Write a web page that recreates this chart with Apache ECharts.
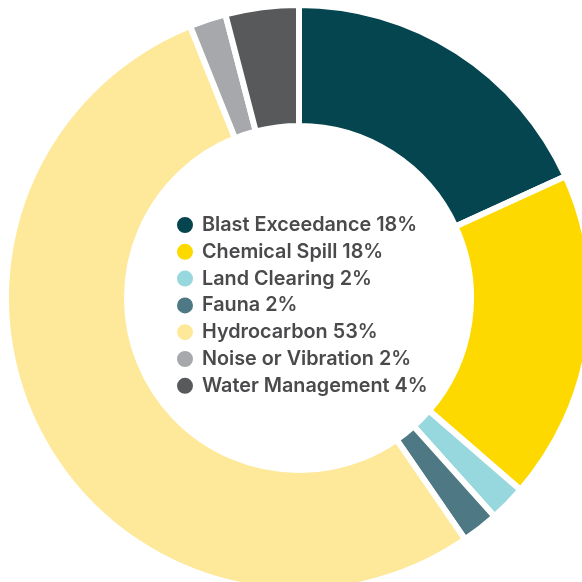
<!DOCTYPE html>
<html>
<head>
<meta charset="utf-8">
<script src="https://cdn.jsdelivr.net/npm/echarts@6/dist/echarts.min.js"></script>
<style>
  html, body { margin: 0; padding: 0; background: #ffffff; }
  #chart { width: 582px; height: 582px; }
</style>
</head>
<body>
<div id="chart"></div>
<script>
// Incident categories and their share of total (%)
const categories = [
  'Blast Exceedance',
  'Chemical Spill',
  'Land Clearing',
  'Fauna',
  'Hydrocarbon',
  'Noise or Vibration',
  'Water Management'
];
const shares = [18, 18, 2, 2, 53, 2, 4];
const colors = ['#04454f', '#fdd900', '#97d7de', '#4e7984', '#fee899', '#a7a8ab', '#58595b'];

const chart = echarts.init(document.getElementById('chart'), null, { renderer: 'canvas' });

chart.setOption({
  animation: false,
  color: colors,
  legend: {
    orient: 'vertical',
    left: 170,
    top: 210,
    icon: 'circle',
    itemWidth: 18,
    itemHeight: 18,
    itemGap: 6.8,
    selectedMode: false,
    textStyle: {
      fontFamily: 'Inter',
      fontWeight: 600,
      fontSize: 19.8,
      lineHeight: 18,
      color: '#4a4a4c',
      padding: [0, 0, 0, 3]
    },
    formatter: function (name) {
      const i = categories.indexOf(name);
      return name + ' ' + shares[i] + '%';
    },
    data: categories
  },
  series: [{
    type: 'pie',
    center: [299, 298],
    radius: [172, 293],
    startAngle: 90,
    clockwise: true,
    avoidLabelOverlap: false,
    silent: true,
    label: { show: false },
    labelLine: { show: false },
    itemStyle: { borderColor: '#ffffff', borderWidth: 6 },
    data: categories.map((c, i) => ({ name: c, value: shares[i] }))
  }]
});
</script>
</body>
</html>
